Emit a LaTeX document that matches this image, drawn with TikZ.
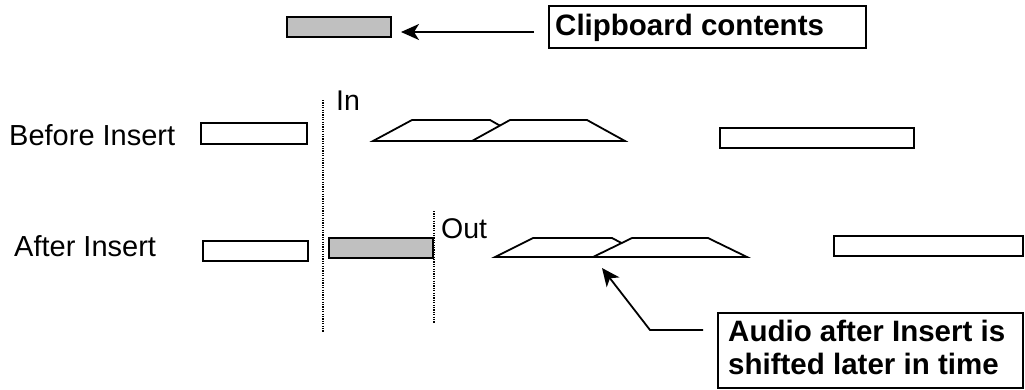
\documentclass[tikz,border=0pt]{standalone}
\usepackage{fontspec}
\setmainfont{Liberation Sans}
\usetikzlibrary{arrows.meta}
\begin{document}
\begin{tikzpicture}[x=1pt,y=-1pt,
  clip/.style={draw=black,line width=2.1pt,anchor=north west,inner sep=0pt,minimum width=#1},
  trap/.style={draw=black,line width=1.8pt,fill=white,line join=miter},
  marker/.style={draw=black,line width=1.2pt,dash pattern=on 1.2pt off 1.2pt},
  lbl/.style={anchor=base west,inner sep=0pt,font=\fontsize{29}{33}\selectfont},
  blbl/.style={lbl,font=\fontsize{29.5}{33}\selectfont\bfseries},
  callout/.style={draw=black,line width=2.1pt,anchor=north west,inner sep=0pt},
  pointer/.style={draw=black,line width=1.8pt,-{Stealth[length=18pt,width=16pt,inset=5pt]}}
]
\useasboundingbox (0,0) rectangle (1025,389);
\definecolor{clipgray}{RGB}{192,192,192}
% clipboard
\node[clip=104pt,minimum height=20pt,fill=clipgray] (cb) at (286,16) {};
\node[callout,minimum width=317pt,minimum height=42pt] (cbbox) at (548,5) {};
\node[blbl] (cbtxt) at (555,35) {Clipboard contents};
\coordinate (cbfrom) at (534,32);
\coordinate (cbto) at (401,32);
\draw[pointer] (cbfrom) -- (cbto);
% row labels
\node[lbl] (before) at (9,145) {Before Insert};
\node[lbl] (after) at (14,256) {After Insert};
% markers
\coordinate (inTop) at (323,100);
\coordinate (inBot) at (323,332);
\draw[marker] (inTop) -- (inBot);
\coordinate (outTop) at (434,211);
\coordinate (outBot) at (434,323);
\draw[marker] (outTop) -- (outBot);
\node[lbl,font=\fontsize{28.5}{32}\selectfont] (inlbl) at (336,110) {In};
\node[lbl,font=\fontsize{28.5}{32}\selectfont] (outlbl) at (441,238) {Out};
% row 1
\node[clip=106pt,minimum height=21pt,fill=white] (r1a) at (200,122) {};
\draw[trap] (373,141) -- (412,120) -- (490,120) -- (527,141) -- cycle;
\draw[trap] (472,141) -- (510,120) -- (587,120) -- (625,141) -- cycle;
\node[clip=194pt,minimum height=20pt,fill=white] (r1b) at (719,127) {};
% row 2
\node[clip=105pt,minimum height=20pt,fill=white] (r2a) at (202,240) {};
\node[clip=104pt,minimum height=20pt,fill=clipgray] (r2g) at (328,237) {};
\draw[trap] (495,257) -- (533,238) -- (612,238) -- (648,257) -- cycle;
\draw[trap] (593,257) -- (632,238) -- (708,238) -- (747,257) -- cycle;
\node[clip=189pt,minimum height=20pt,fill=white] (r2b) at (833,235) {};
% callout
\node[callout,minimum width=305pt,minimum height=75pt] (aubox) at (717,312) {};
\node[blbl] (au1) at (728,341) {Audio after Insert is};
\node[blbl] (au2) at (728,374) {shifted later in time};
\coordinate (aufrom) at (703,330);
\coordinate (auelbow) at (650,330);
\coordinate (auto) at (602,268);
\draw[pointer] (aufrom) -- (auelbow) -- (auto);
\end{tikzpicture}
\end{document}
